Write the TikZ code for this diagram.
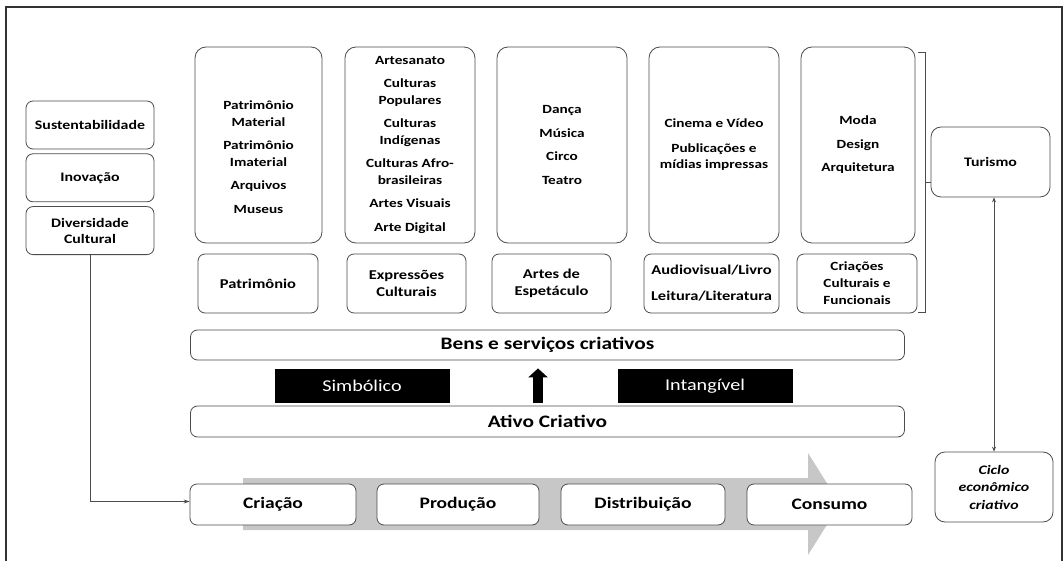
\documentclass[tikz,border=0pt]{standalone}
\usepackage{fontspec}
\setmainfont{Carlito}[FakeStretch=1.22]
\usetikzlibrary{positioning,arrows.meta}

\begin{document}
\begin{tikzpicture}[x=1pt,y=-1pt,
rbox/.style={draw=black!70,line width=0.8pt,rounded corners=7pt,fill=white,align=center,inner sep=0pt,font=\fontsize{13}{16}\selectfont\bfseries},
tallbox/.style={rbox,rounded corners=11pt,minimum width=130pt,minimum height=196pt},
items/.style={align=center,inner sep=0pt,font=\fontsize{12.5}{16.5}\selectfont\bfseries},
catbox/.style={rbox,minimum width=119pt,minimum height=59pt,font=\fontsize{13.5}{17}\selectfont\bfseries},
sidebox/.style={rbox,minimum width=128pt,minimum height=48pt},
barbox/.style={rbox,minimum width=714pt,minimum height=31pt,font=\fontsize{17.5}{20}\selectfont\bfseries},
tag/.style={fill=black,text=white,minimum width=175pt,minimum height=34pt,inner sep=0pt,font=\fontsize{16.5}{18}\selectfont},
stepbox/.style={rbox,minimum width=164pt,minimum height=41pt,font=\fontsize{16}{18}\selectfont\bfseries},
link/.style={draw=black!70,line width=0.7pt}]
\useasboundingbox (0,0) rectangle (1064,561);
\draw[black!80,line width=1.2pt] (6,561) -- (6,7) -- (1062,7) -- (1062,561);

% left column
\node (sust) [sidebox] at (90,125) {Sustentabilidade};
\node (inov) [sidebox,below=4pt of sust] {Inovação};
\node (div) [sidebox,below=4pt of inov] {Diversidade\\Cultural};

% sectors
\node (pat) [tallbox,minimum width=127pt] at (258.5,145) {};
\node (patitems) [items] at ([yshift=-12pt]pat.center) {Patrimônio\\Material\\[7pt]Patrimônio\\Imaterial\\[7pt]Arquivos\\[7pt]Museus};
\node (expr) [tallbox] at (410,145) {};
\node (expritems) [items] at (expr.center) {Artesanato\\[7pt]Culturas\\Populares\\[7pt]Culturas\\Indígenas\\[7pt]Culturas Afro-\\brasileiras\\[7pt]Artes Visuais\\[7pt]Arte Digital};
\node (artes) [tallbox] at (562,145) {};
\node (artesitems) [items] at (artes.center) {Dança\\[7pt]Música\\[7pt]Circo\\[7pt]Teatro};
\node (cine) [tallbox] at (714,145) {};
\node (cineitems) [items] at (cine.center) {Cinema e Vídeo\\[8pt]Publicações e\\mídias impressas};
\node (moda) [tallbox,minimum width=114pt] at (858,145) {};
\node (modaitems) [items] at (moda.center) {Moda\\[7pt]Design\\[7pt]Arquitetura};

\node (patcat) [catbox,minimum width=120pt] at (258,283.5) {Patrimônio};
\node (exprcat) [catbox] at (406.5,283.5) {Expressões\\Culturais};
\node (artescat) [catbox] at (551.5,283.5) {Artes de\\Espetáculo};
\node (cinecat) [catbox,minimum width=135pt] at (711.5,283.5) {Audiovisual/Livro\\[9pt]Leitura/Literatura};
\node (modacat) [catbox,minimum width=120pt,font=\fontsize{12.5}{17}\selectfont\bfseries] at (857,283.5) {Criações\\Culturais e\\Funcionais};

% bracket
\draw[link] (918,52) -- (925,52) -- (925,312) -- (918,312) (925,182) -- (937,182);

\node (turismo) [rbox,minimum width=119pt,minimum height=70pt,rounded corners=10pt] at (990.5,162) {Turismo};
\node (ciclo) [rbox,minimum width=118pt,minimum height=70pt,rounded corners=10pt,font=\fontsize{13}{17.5}\selectfont\bfseries\itshape] at (994,487) {Ciclo\\econômico\\criativo};

% value layers
\node (bens) [barbox,minimum height=30pt] at (547.5,345) {Bens e serviços criativos};
\node (ativo) [barbox] at (547.5,421.5) {Ativo Criativo};
\node (simb) [tag] at (362,386) {Simbólico};
\node (intang) [tag] at (705,386) {Intangível};
\draw[-{Triangle[width=19pt,length=9pt]},line width=10pt] ([xshift=-9.5pt,yshift=3pt]ativo.north) -- ([xshift=-9.5pt,yshift=-8pt]bens.south);

% chain
\fill[black!22] (243,478) -- (808,478) -- (808,453) -- (840,504) -- (808,555) -- (808,530) -- (243,530) -- cycle;
\node (cria) [stepbox,minimum width=166pt] at (273,504.5) {Criação};
\node (prod) [stepbox,minimum width=162pt] at (458,504.5) {Produção};
\node (dist) [stepbox] at (643,504.5) {Distribuição};
\node (cons) [stepbox,minimum width=165pt] at (829.5,504.5) {Consumo};

\draw[link,-{Stealth[length=6pt,width=4pt]}] (div.south) |- ([yshift=3pt]cria.west);
\draw[link,{Stealth[length=5pt,width=4pt]}-{Stealth[length=5pt,width=4pt]}] (ciclo.north |- turismo.south) -- (ciclo.north);
\end{tikzpicture}
\end{document}
